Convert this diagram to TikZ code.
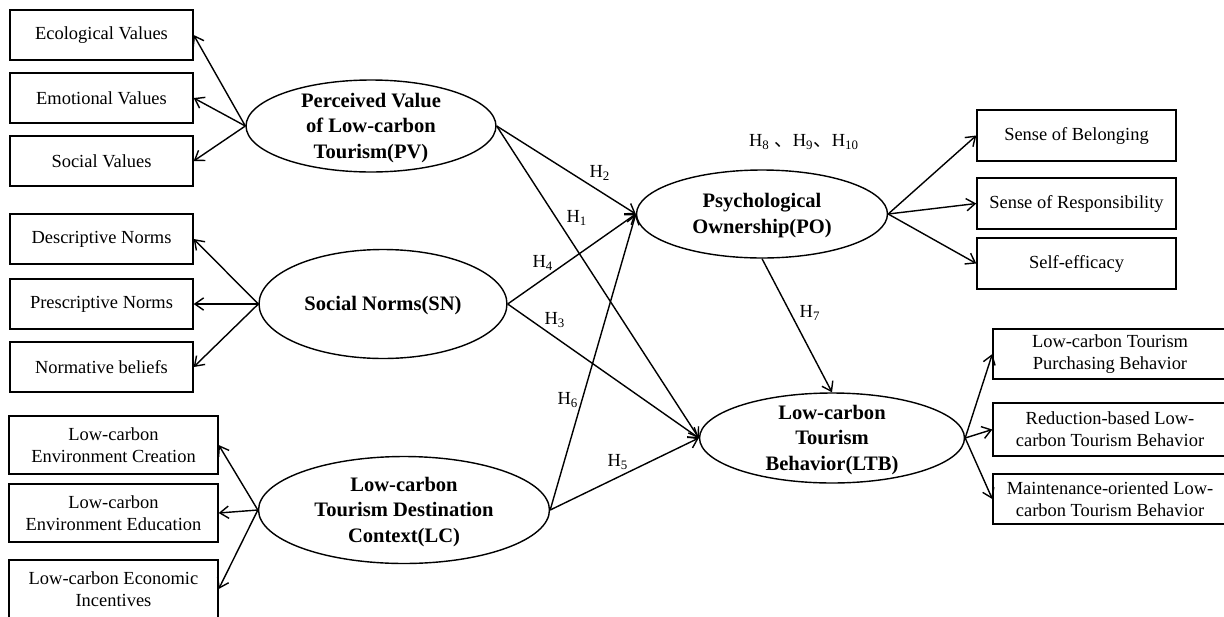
\documentclass[tikz,border=0pt]{standalone}
\usepackage{fontspec}
\setmainfont{Liberation Serif}
\newfontfamily\cjk{Noto Sans CJK SC}
\usetikzlibrary{arrows.meta}
\usetikzlibrary{shapes.geometric}

\tikzset{
  ind/.style={draw, line width=0.8pt, rectangle, align=center, inner sep=0pt, font=\fontsize{10.5}{12.5}\selectfont},
  lat/.style={draw, line width=0.8pt, ellipse, inner sep=0pt},
  lattext/.style={align=center, yshift=-1pt, font=\fontsize{11.7}{14.5}\selectfont\bfseries},
  hyp/.style={font=\fontsize{10.5}{12.5}\selectfont},
}

\begin{document}
\begin{tikzpicture}[x=0.02cm,y=-0.02cm,>={Straight Barb[length=5pt,width=7pt]},line width=0.8pt]

\useasboundingbox (0,0) rectangle (1224,616);

\node[lat, minimum width=5cm, minimum height=1.84cm, label={[lattext]center:{Perceived Value\\of Low-carbon\\Tourism(PV)}}] (PV) at (371,126) {};
\node[lat, minimum width=4.96cm, minimum height=2.18cm, label={[lattext]center:{Social Norms(SN)}}] (SN) at (383,304) {};
\node[lat, minimum width=5.82cm, minimum height=2.14cm, label={[lattext]center:{Low-carbon\\Tourism Destination\\Context(LC)}}] (LC) at (404,510) {};
\node[lat, minimum width=5.02cm, minimum height=1.76cm, label={[lattext]center:{Psychological\\Ownership(PO)}}] (PO) at (762,214) {};
\node[lat, minimum width=5.3cm, minimum height=1.8cm, label={[lattext]center:{Low-carbon\\Tourism\\Behavior(LTB)}}] (LTB) at (832,438) {};

\node[ind, minimum width=3.66cm, minimum height=1cm] (V1) at (101.5,35) {Ecological Values};
\node[ind, minimum width=3.66cm, minimum height=1cm] (V2) at (101.5,98) {Emotional Values};
\node[ind, minimum width=3.66cm, minimum height=1cm] (V3) at (101.5,161) {Social Values};
\node[ind, minimum width=3.66cm, minimum height=1cm] (N1) at (101.5,239) {Descriptive Norms};
\node[ind, minimum width=3.66cm, minimum height=1cm] (N2) at (101.5,304) {Prescriptive Norms};
\node[ind, minimum width=3.66cm, minimum height=1cm] (N3) at (101.5,367) {Normative beliefs};
\node[ind, minimum width=4.18cm, minimum height=1.16cm] (C1) at (113.5,445) {Low-carbon\\Environment Creation};
\node[ind, minimum width=4.18cm, minimum height=1.16cm] (C2) at (113.5,513) {Low-carbon\\Environment Education};
\node[ind, minimum width=4.18cm, minimum height=1.16cm] (C3) at (113.5,589) {Low-carbon Economic\\Incentives};

\node[ind, minimum width=3.98cm, minimum height=1.02cm] (O1) at (1076.5,135.5) {Sense of Belonging};
\node[ind, minimum width=3.98cm, minimum height=1.02cm] (O2) at (1076.5,203.5) {Sense of Responsibility};
\node[ind, minimum width=3.98cm, minimum height=1.02cm] (O3) at (1076.5,263.5) {Self-efficacy};
\node[ind, minimum width=4.68cm, minimum height=1cm] (B1) at (1110,354) {Low-carbon Tourism\\Purchasing Behavior};
\node[ind, minimum width=4.68cm, minimum height=1.06cm] (B2) at (1110,429.5) {Reduction-based Low-\\carbon Tourism Behavior};
\node[ind, minimum width=4.68cm, minimum height=1cm] (B3) at (1110,499) {Maintenance-oriented Low-\\carbon Tourism Behavior};

\draw[->] (PV.west)--(V1.east);
\draw[->] (PV.west)--(V2.east);
\draw[->] (PV.west)--(V3.east);
\draw[->] (SN.west)--(N1.east);
\draw[->] (SN.west)--(N2.east);
\draw[->] (SN.west)--(N3.east);
\draw[->] (LC.west)--(C1.east);
\draw[->] (LC.west)--(C2.east);
\draw[->] (LC.west)--(C3.east);
\draw[->] (PO.east)--(O1.west);
\draw[->] (PO.east)--(O2.west);
\draw[->] (PO.east)--(O3.west);
\draw[->] (LTB.east)--(B1.west);
\draw[->] (LTB.east)--(B2.west);
\draw[->] (LTB.east)--(B3.west);

\draw[->] (PV.east)--(PO.west);
\draw[->] (PV.east)--(LTB.west);
\draw[->] (SN.east)--(PO.west);
\draw[->] (SN.east)--(LTB.west);
\draw[->] (LC.east)--(PO.west);
\draw[->] (LC.east)--(LTB.west);
\draw[->] (PO.south)--(LTB.north);

\node[hyp] (H2) at (600,173) {H\textsubscript{2}};
\node[hyp] (H1) at (577,218) {H\textsubscript{1}};
\node[hyp] (H4) at (543,263) {H\textsubscript{4}};
\node[hyp] (H3) at (555,320) {H\textsubscript{3}};
\node[hyp] (H6) at (568,400) {H\textsubscript{6}};
\node[hyp] (H5) at (618,462) {H\textsubscript{5}};
\node[hyp] (H7) at (810,313) {H\textsubscript{7}};
\node[hyp] (H8) at (804,142) {H\textsubscript{8} {\cjk 、}H\textsubscript{9}{\cjk 、}H\textsubscript{10}};

\end{tikzpicture}
\end{document}
